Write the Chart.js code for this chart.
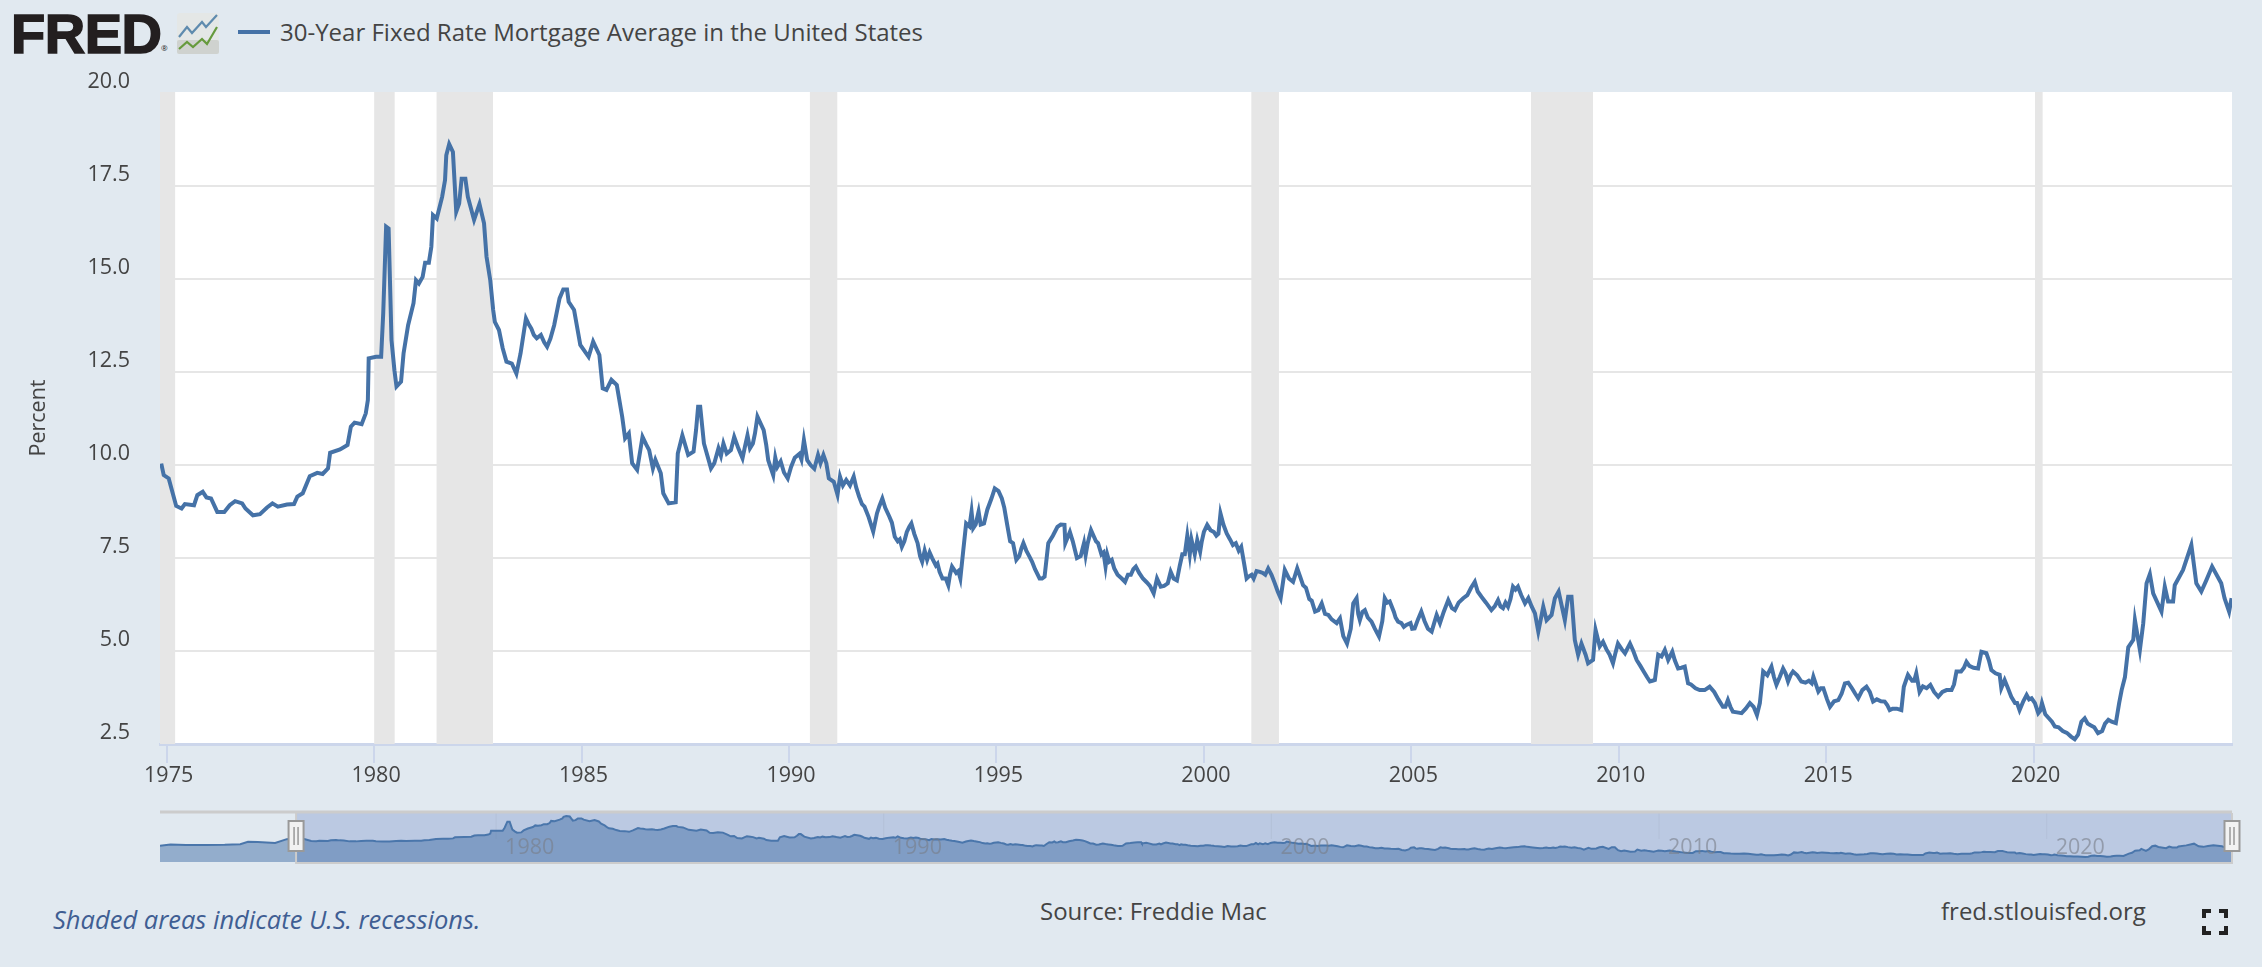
<!DOCTYPE html>
<html>
<head>
<meta charset="utf-8">
<title>30-Year Fixed Rate Mortgage Average</title>
<script src="https://cdn.jsdelivr.net/npm/chart.js@4"></script>
<style>
  html, body { margin: 0; padding: 0; background: #e1e9f0; width: 2262px; height: 967px; overflow: hidden; }
  body { position: relative; font-family: "Open Sans", sans-serif; color: #444; }
  canvas { position: absolute; left: 0; }
  #mainChart { top: 0; }
  #navChart { top: 800px; }
  .txt { position: absolute; white-space: nowrap; line-height: 1; }
  #logo { left: 11px; top: 1px; font: bold 56px "Liberation Sans", sans-serif; color: #231f20; -webkit-text-stroke: 1.6px #231f20; letter-spacing: -0.5px; }
  #reg { left: 161px; top: 44px; font-size: 8px; color: #231f20; }
  #icon { position: absolute; left: 177px; top: 13px; }
  #legendLine { position: absolute; left: 238px; top: 30px; width: 32px; height: 4px; background: #4572a7; }
  #title { left: 280px; top: 20px; font-size: 24px; color: #444; }
  #note { left: 53px; top: 907px; font-size: 25.5px; font-style: italic; color: #3f5e93; }
  #source { left: 1040px; top: 899px; font-size: 24px; }
  #site { left: 1941px; top: 899px; font-size: 24px; }
  #full { position: absolute; left: 2202px; top: 909px; }
</style>
</head>
<body>
<div class="txt" id="logo">FRED</div>
<div class="txt" id="reg">®</div>
<svg id="icon" width="42" height="41" viewBox="0 0 42 41">
  <rect width="42" height="41" rx="3" fill="#e4e7e6"/>
  <rect y="27" width="42" height="14" rx="2" fill="#cfd2cf"/>
  <polyline points="2,24 10,14 15,20 25,9 29,14 40,2" fill="none" stroke="#5f8bae" stroke-width="2.2"/>
  <polyline points="2,36 10,29 16,34 25,26 30,31 40,14" fill="none" stroke="#669a3c" stroke-width="2.2"/>
</svg>
<div id="legendLine"></div>
<div class="txt" id="title">30-Year Fixed Rate Mortgage Average in the United States</div>
<canvas id="mainChart" width="2262" height="800"></canvas>
<canvas id="navChart" width="2262" height="80"></canvas>
<div class="txt" id="note">Shaded areas indicate U.S. recessions.</div>
<div class="txt" id="source">Source: Freddie Mac</div>
<div class="txt" id="site">fred.stlouisfed.org</div>
<svg id="full" width="26" height="26" viewBox="0 0 26 26" fill="none" stroke="#222" stroke-width="4">
  <path d="M2 9V2H9M17 2H24V9M24 17V24H17M9 24H2V17"/>
</svg>

<script>
// turning points, years as decimals
const rateYears = [
  1974.87, 1974.93, 1975.05, 1975.23, 1975.36, 1975.44, 1975.66, 1975.74, 1975.87, 1975.96,
  1976.07, 1976.22, 1976.39, 1976.52, 1976.65, 1976.82, 1976.90, 1977.08, 1977.25, 1977.42,
  1977.55, 1977.68, 1977.90, 1978.07, 1978.15, 1978.28, 1978.45, 1978.63, 1978.76, 1978.89,
  1978.94, 1979.18, 1979.36, 1979.44, 1979.53, 1979.70, 1979.80, 1979.85, 1979.87, 1980.05,
  1980.17, 1980.22, 1980.29, 1980.35, 1980.42, 1980.49, 1980.54, 1980.65, 1980.71, 1980.82,
  1980.95, 1981.01, 1981.08, 1981.17, 1981.23, 1981.32, 1981.38, 1981.42, 1981.51, 1981.64,
  1981.71, 1981.74, 1981.81, 1981.90, 1981.98, 1982.05, 1982.11, 1982.20, 1982.26, 1982.41,
  1982.54, 1982.65, 1982.71, 1982.80, 1982.87, 1982.91, 1983.01, 1983.10, 1983.19, 1983.32,
  1983.43, 1983.53, 1983.66, 1983.79, 1983.92, 1984.02, 1984.17, 1984.34, 1984.47, 1984.56,
  1984.65, 1984.69, 1984.82, 1984.97, 1985.17, 1985.28, 1985.43, 1985.51, 1985.60, 1985.72,
  1985.85, 1985.98, 1986.05, 1986.14, 1986.22, 1986.34, 1986.47, 1986.63, 1986.72, 1986.78,
  1986.91, 1986.97, 1987.10, 1987.27, 1987.32, 1987.43, 1987.57, 1987.70, 1987.76, 1987.81,
  1987.86, 1987.95, 1988.12, 1988.42, 1988.50, 1988.68, 1988.88, 1989.00, 1989.13, 1989.24,
  1989.39, 1989.50, 1989.62, 1989.67, 1989.80, 1989.97, 1990.14, 1990.36, 1990.44, 1990.61,
  1990.70, 1990.83, 1990.96, 1991.17, 1991.23, 1991.56, 1991.69, 1991.82, 1992.03, 1992.12,
  1992.25, 1992.42, 1992.55, 1992.72, 1992.90, 1992.95, 1993.10, 1993.21, 1993.45, 1993.63,
  1993.84, 1993.93, 1994.13, 1994.27, 1994.40, 1994.44, 1994.57, 1994.70, 1994.96, 1995.13,
  1995.26, 1995.48, 1995.65, 1995.86, 1996.04, 1996.16, 1996.25, 1996.47, 1996.64, 1996.66,
  1996.77, 1996.94, 1997.11, 1997.15, 1997.28, 1997.45, 1997.63, 1997.67, 1997.84, 1998.10,
  1998.36, 1998.53, 1998.79, 1998.87, 1998.96, 1999.13, 1999.20, 1999.35, 1999.48, 1999.60,
  1999.78, 1999.84, 1999.91, 2000.08, 2000.30, 2000.40, 2000.55, 2000.77, 2000.90, 2001.03,
  2001.35, 2001.55, 2001.71, 2001.85, 2001.95, 2002.15, 2002.25, 2002.39, 2002.68, 2002.84,
  2003.00, 2003.20, 2003.28, 2003.45, 2003.60, 2003.68, 2003.76, 2003.88, 2004.04, 2004.22,
  2004.36, 2004.48, 2004.68, 2004.88, 2005.08, 2005.24, 2005.49, 2005.61, 2005.69, 2005.89,
  2006.05, 2006.25, 2006.53, 2006.69, 2006.93, 2007.09, 2007.21, 2007.33, 2007.45, 2007.57,
  2007.74, 2007.82, 2007.98, 2008.06, 2008.18, 2008.26, 2008.38, 2008.46, 2008.55, 2008.70,
  2008.78, 2008.86, 2008.94, 2009.02, 2009.10, 2009.26, 2009.38, 2009.44, 2009.54, 2009.62,
  2009.86, 2009.98, 2010.15, 2010.27, 2010.43, 2010.75, 2010.87, 2010.95, 2011.11, 2011.19,
  2011.29, 2011.43, 2011.59, 2011.67, 2011.95, 2012.19, 2012.51, 2012.63, 2012.75, 2012.96,
  2013.16, 2013.33, 2013.40, 2013.48, 2013.68, 2013.80, 2013.96, 2014.08, 2014.20, 2014.40,
  2014.65, 2014.69, 2014.81, 2014.93, 2015.09, 2015.29, 2015.45, 2015.53, 2015.77, 2015.97,
  2016.13, 2016.41, 2016.53, 2016.81, 2016.87, 2016.97, 2017.17, 2017.25, 2017.51, 2017.70,
  2018.02, 2018.14, 2018.38, 2018.66, 2018.74, 2018.86, 2018.98, 2019.18, 2019.22, 2019.30,
  2019.46, 2019.66, 2019.83, 2019.95, 2020.11, 2020.20, 2020.51, 2020.99, 2021.15, 2021.23,
  2021.55, 2021.80, 2021.98, 2022.06, 2022.12, 2022.20, 2022.28, 2022.40, 2022.44, 2022.56,
  2022.64, 2022.72, 2022.80, 2022.88, 2023.08, 2023.16, 2023.24, 2023.36, 2023.40, 2023.60,
  2023.80, 2023.92, 2024.04, 2024.16, 2024.30, 2024.52, 2024.60, 2024.71, 2024.77
];
const rateValues = [
  10.04, 9.73, 9.64, 8.90, 8.83, 8.95, 8.92, 9.19, 9.28, 9.13,
  9.10, 8.74, 8.74, 8.92, 9.03, 8.97, 8.83, 8.65, 8.68, 8.86,
  8.97, 8.88, 8.94, 8.95, 9.15, 9.24, 9.70, 9.79, 9.76, 9.91,
  10.33, 10.42, 10.54, 11.03, 11.14, 11.10, 11.39, 11.75, 12.87, 12.91,
  12.91, 14.08, 16.41, 16.36, 13.36, 12.55, 12.11, 12.24, 13.00, 13.76,
  14.35, 14.97, 14.88, 15.06, 15.44, 15.44, 15.87, 16.72, 16.63, 17.21,
  17.66, 18.33, 18.63, 18.42, 16.81, 17.03, 17.70, 17.70, 17.21, 16.59,
  17.02, 16.50, 15.60, 14.97, 14.17, 13.85, 13.63, 13.14, 12.78, 12.73,
  12.46, 13.00, 13.94, 13.67, 13.41, 13.50, 13.18, 13.76, 14.48, 14.72,
  14.72, 14.39, 14.17, 13.23, 12.91, 13.32, 12.96, 12.06, 12.02, 12.29,
  12.15, 11.30, 10.72, 10.85, 10.05, 9.87, 10.76, 10.40, 9.91, 10.14,
  9.78, 9.24, 8.97, 9.00, 10.31, 10.80, 10.27, 10.36, 10.94, 11.57,
  11.57, 10.58, 9.91, 10.58, 10.31, 10.76, 10.18, 10.80, 10.58, 11.30,
  10.94, 10.13, 9.73, 10.20, 10.10, 9.64, 10.20, 10.67, 10.13, 9.90,
  10.27, 10.27, 9.64, 9.20, 9.69, 9.69, 9.15, 8.88, 8.21, 8.70,
  9.10, 8.61, 8.07, 7.80, 8.34, 8.43, 7.90, 7.40, 7.50, 7.13,
  6.77, 7.27, 6.95, 8.43, 8.75, 8.30, 8.75, 8.43, 9.37, 9.10,
  8.39, 7.45, 7.90, 7.40, 6.95, 7.00, 7.90, 8.34, 8.39, 7.90,
  8.20, 7.50, 7.90, 7.58, 8.25, 7.90, 7.27, 7.60, 7.22, 6.86,
  7.27, 6.95, 6.55, 6.95, 6.73, 6.82, 7.13, 6.90, 7.60, 8.10,
  7.60, 7.98, 7.67, 8.39, 8.10, 8.70, 8.16, 7.90, 7.80, 6.95,
  7.13, 7.22, 6.82, 6.42, 7.18, 6.86, 7.22, 6.77, 6.06, 6.28,
  5.97, 5.75, 5.88, 5.20, 6.28, 6.42, 5.83, 6.10, 5.79, 5.39,
  6.42, 6.33, 5.79, 5.70, 5.61, 6.06, 5.52, 5.97, 5.75, 6.37,
  6.10, 6.42, 6.86, 6.46, 6.10, 6.37, 6.15, 6.19, 6.73, 6.73,
  6.28, 6.42, 6.01, 5.52, 6.19, 5.83, 5.97, 6.42, 6.60, 5.83,
  6.46, 6.46, 5.30, 4.90, 5.20, 4.67, 4.76, 5.57, 5.12, 5.25,
  4.67, 5.20, 4.94, 5.20, 4.76, 4.18, 4.22, 4.90, 5.03, 4.76,
  4.98, 4.53, 4.58, 4.13, 3.95, 4.04, 3.50, 3.68, 3.37, 3.33,
  3.60, 3.28, 3.60, 4.45, 4.58, 4.09, 4.53, 4.18, 4.45, 4.18,
  4.13, 4.31, 3.91, 4.00, 3.50, 3.68, 4.13, 4.15, 3.73, 4.04,
  3.64, 3.64, 3.41, 3.41, 4.04, 4.36, 4.40, 3.90, 4.09, 3.77,
  3.95, 4.45, 4.71, 4.53, 4.98, 4.94, 4.49, 4.36, 4.00, 4.22,
  3.77, 3.41, 3.82, 3.73, 3.33, 3.60, 2.97, 2.63, 3.10, 3.19,
  2.79, 3.15, 3.06, 3.60, 3.95, 4.30, 5.10, 5.30, 5.83, 5.03,
  5.74, 6.82, 7.07, 6.55, 6.06, 6.73, 6.33, 6.33, 6.77, 7.18,
  7.85, 6.82, 6.60, 6.90, 7.27, 6.82, 6.42, 6.06, 6.42
];
// smaller wiggles between the turning points
const wiggleYears = [
  1983.72, 1983.85, 1984.10, 1984.25, 1986.56,
  1988.20, 1988.30, 1988.36, 1988.60, 1988.78, 1988.94, 1989.06, 1989.18, 1989.45, 1989.72,
  1989.88, 1990.05, 1990.25, 1990.30, 1990.52, 1990.76, 1990.90, 1991.08, 1991.30, 1991.38,
  1991.47, 1991.62, 1991.76, 1991.92, 1992.18, 1992.32, 1992.48, 1992.62, 1992.67, 1992.78,
  1992.84, 1993.02, 1993.16, 1993.27, 1993.33, 1993.39, 1993.54, 1993.58, 1993.70, 1993.78,
  1993.88, 1994.03, 1994.08, 1994.20, 1994.35, 1994.50, 1994.62, 1994.78, 1994.88, 1995.05,
  1995.19, 1995.33, 1995.40, 1995.55, 1995.60, 1995.72, 1995.79, 1995.93, 1996.10, 1996.36,
  1996.55, 1996.84, 1997.03, 1997.20, 1997.34, 1997.40, 1997.53, 1997.58, 1997.72, 1997.78,
  1997.92, 1998.02, 1998.17, 1998.24, 1998.30, 1998.44, 1998.50, 1998.62, 1998.70, 1999.04,
  1999.27, 1999.42, 1999.54, 1999.66, 1999.70, 1999.95, 2000.00, 2000.16, 2000.24, 2000.35,
  2000.47, 2000.63, 2000.70, 2000.84, 2000.97, 2001.08, 2001.15, 2001.20, 2001.27, 2001.42,
  2001.48, 2001.63, 2001.78, 2002.05, 2002.32, 2002.46, 2002.54, 2002.60, 2002.76, 2002.92,
  2003.08, 2003.36, 2003.54, 2003.72, 2003.82, 2003.95, 2004.12, 2004.30, 2004.42, 2004.58,
  2004.62, 2004.76, 2004.82, 2004.98, 2005.02, 2005.16, 2005.32, 2005.40, 2005.55, 2005.78,
  2005.98, 2006.14, 2006.35, 2006.44, 2006.60, 2006.80, 2007.01, 2007.15, 2007.27, 2007.39,
  2007.51, 2007.65, 2007.90, 2009.20, 2009.70, 2009.78, 2009.92, 2010.07, 2010.35, 2010.52,
  2010.60, 2010.68, 2010.81, 2011.03, 2011.35, 2011.51, 2011.74, 2011.85, 2012.07, 2012.30,
  2012.40, 2012.57, 2012.69, 2012.85, 2013.06, 2013.25, 2013.58, 2013.74, 2013.88, 2014.02,
  2014.14, 2014.30, 2014.50, 2014.58, 2014.87, 2015.02, 2015.19, 2015.37, 2015.62, 2015.70,
  2015.87, 2016.05, 2016.22, 2016.32, 2016.47, 2016.60, 2016.70, 2016.92, 2017.07, 2017.12,
  2017.33, 2017.42, 2017.60, 2017.80, 2017.90, 2018.08, 2018.25, 2018.32, 2018.45, 2018.55,
  2018.92, 2019.08, 2019.38, 2019.55, 2019.60, 2019.75, 2019.89, 2020.03, 2020.16, 2020.28,
  2020.36, 2020.44, 2020.60, 2020.70, 2020.80, 2020.90, 2021.07, 2021.30, 2021.38, 2021.46,
  2021.65, 2021.72, 2021.88
];
const wiggleValues = [
  13.80, 13.50, 13.30, 13.40, 10.55,
  10.05, 10.45, 10.25, 10.40, 10.45, 10.50, 10.45, 10.85, 10.55, 9.95,
  9.80, 9.95, 10.30, 10.15, 10.00, 10.05, 10.05, 9.55, 9.45, 9.60,
  9.45, 9.40, 8.95, 8.60, 8.90, 8.85, 8.45, 7.95, 8.00, 7.95,
  8.20, 8.15, 7.55, 7.70, 7.45, 7.65, 7.30, 7.35, 6.95, 6.95,
  7.05, 7.10, 7.15, 7.70, 8.35, 8.40, 8.40, 8.80, 9.10, 9.30,
  8.85, 7.95, 7.90, 7.55, 7.75, 7.70, 7.55, 7.20, 6.95, 8.10,
  8.40, 7.95, 7.55, 7.90, 8.10, 7.95, 7.60, 7.65, 7.40, 7.45,
  7.05, 6.95, 7.05, 7.05, 7.20, 7.10, 7.00, 6.85, 6.75, 6.75,
  6.95, 7.30, 7.60, 7.60, 8.00, 7.95, 8.20, 8.25, 8.20, 8.15,
  8.40, 8.00, 7.85, 7.70, 7.35, 7.00, 7.05, 6.95, 7.15, 7.10,
  7.05, 7.05, 6.60, 6.95, 7.00, 6.70, 6.40, 6.35, 6.10, 6.00,
  5.85, 5.40, 5.60, 6.00, 6.05, 5.90, 5.60, 5.80, 6.30, 6.05,
  5.90, 5.75, 5.65, 5.75, 5.60, 5.85, 5.80, 5.60, 5.75, 6.05,
  6.15, 6.30, 6.50, 6.70, 6.60, 6.30, 6.20, 6.20, 6.30, 6.40,
  6.65, 6.50, 6.20, 4.90, 5.05, 4.90, 4.95, 5.05, 5.00, 4.60,
  4.45, 4.30, 4.20, 4.85, 4.75, 4.55, 4.10, 4.00, 3.95, 3.90,
  3.70, 3.50, 3.50, 3.35, 3.45, 3.50, 4.35, 4.30, 4.30, 4.40,
  4.35, 4.35, 4.15, 4.20, 4.00, 3.70, 3.65, 3.85, 4.00, 3.85,
  3.95, 3.90, 3.70, 3.65, 3.55, 3.45, 3.45, 4.20, 4.20, 4.20,
  4.05, 4.00, 3.90, 3.90, 3.95, 4.10, 4.45, 4.55, 4.60, 4.55,
  4.75, 4.40, 4.00, 3.60, 3.60, 3.65, 3.70, 3.60, 3.40, 3.30,
  3.20, 3.10, 2.95, 2.85, 2.80, 2.70, 2.75, 3.05, 3.00, 2.95,
  2.85, 3.05, 3.10
];
// navigator also shows the start of the series, before the main window
const navLeadYears = [1971.33, 1971.60, 1972.00, 1972.50, 1973.00, 1973.40, 1973.60, 1973.85, 1974.30, 1974.60];
const navLeadValues = [7.00, 7.50, 7.35, 7.35, 7.40, 7.60, 8.55, 8.50, 8.10, 9.60];

const recessionStarts = [1973.83, 1980.00, 1981.50, 1990.50, 2001.14, 2007.88, 2020.03];
const recessionEnds = [1975.21, 1980.50, 1982.87, 1991.17, 2001.81, 2009.38, 2020.22];
const navTickYears = [1980, 1990, 2000, 2010, 2020];

const windowStart = 1974.84;
const windowEnd = 2024.78;
const navStart = 1971.33;
const plotTop = 20.03;

function toPoints(years, values) {
  return values.map((v, i) => ({ x: years[i], y: v }));
}

// both reading passes, in date order
const ratePoints = toPoints(rateYears, rateValues)
  .concat(toPoints(wiggleYears, wiggleValues))
  .sort((a, b) => a.x - b.x);

const recessionSets = recessionStarts.map((start, i) => ({
  data: [{ x: Math.max(start, windowStart), y: plotTop }, { x: recessionEnds[i], y: plotTop }],
  fill: 'start',
  backgroundColor: '#e6e6e6',
  borderWidth: 0,
  pointRadius: 0,
  order: 2
}));

const plotBackground = {
  id: 'plotBackground',
  beforeDraw(chart) {
    const a = chart.chartArea;
    chart.ctx.fillStyle = '#ffffff';
    chart.ctx.fillRect(a.left, a.top, a.width, a.height);
  }
};

new Chart(document.getElementById('mainChart'), {
  type: 'line',
  data: {
    datasets: [
      {
        data: ratePoints,
        borderColor: '#4572a7',
        borderWidth: 4,
        pointRadius: 0,
        tension: 0,
        fill: false,
        order: 1
      },
      ...recessionSets
    ]
  },
  options: {
    responsive: false,
    animation: false,
    devicePixelRatio: 1,
    layout: { padding: { top: 92, right: 30, left: 0, bottom: 0 } },
    plugins: { legend: { display: false }, tooltip: { enabled: false } },
    scales: {
      x: {
        type: 'linear',
        min: windowStart,
        max: windowEnd,
        afterFit(scale) { scale.height = 56; },
        border: { color: '#ccd6eb', width: 3 },
        grid: { drawOnChartArea: false, color: '#ccd6eb', lineWidth: 2, tickLength: 19 },
        ticks: {
          stepSize: 5,
          includeBounds: false,
          maxRotation: 0,
          padding: 0,
          labelOffset: 2,
          color: '#444',
          font: { family: '"Open Sans"', size: 21.5 },
          callback: v => String(v)
        }
      },
      y: {
        min: 2.5,
        max: plotTop,
        afterFit(scale) { scale.width = 160; },
        border: { display: false },
        grid: {
          // no line along the top edge of the plot
          color: ctx => (ctx.tick && ctx.tick.value === 20 ? 'rgba(0,0,0,0)' : '#e6e6e6'),
          lineWidth: 2,
          drawTicks: false
        },
        title: {
          display: true,
          text: 'Percent',
          color: '#444',
          font: { family: '"Open Sans"', size: 21.5 },
          padding: { top: 26, bottom: 0 }
        },
        ticks: {
          stepSize: 2.5,
          includeBounds: false,
          padding: 30,
          labelOffset: -11,
          color: '#444',
          font: { family: '"Open Sans"', size: 21.5 },
          callback: v => v.toFixed(1)
        }
      }
    }
  },
  plugins: [plotBackground]
});

// selection band, year labels and handles of the navigator
const navDecor = {
  id: 'navDecor',
  beforeDatasetsDraw(chart) {
    const { ctx, chartArea: a, scales } = chart;
    const left = scales.x.getPixelForValue(windowStart);
    const right = scales.x.getPixelForValue(windowEnd);
    ctx.fillStyle = '#bbc9e2';
    ctx.fillRect(left, a.top, right - left, a.height);
    ctx.strokeStyle = 'rgba(160,170,190,0.25)';
    ctx.lineWidth = 1;
    navTickYears.forEach(year => {
      const x = scales.x.getPixelForValue(year);
      ctx.beginPath();
      ctx.moveTo(x, a.top);
      ctx.lineTo(x, a.top + 26);
      ctx.stroke();
    });
  },
  afterDatasetsDraw(chart) {
    const { ctx, chartArea: a, scales } = chart;
    const left = scales.x.getPixelForValue(windowStart);
    const right = scales.x.getPixelForValue(windowEnd);
    ctx.fillStyle = 'rgba(120,125,135,0.6)';
    ctx.font = '21.5px "Open Sans"';
    ctx.textAlign = 'left';
    ctx.textBaseline = 'middle';
    navTickYears.forEach(year => {
      ctx.fillText(String(year), scales.x.getPixelForValue(year) + 9, a.top + 35);
    });
    ctx.strokeStyle = '#cccccc';
    ctx.lineWidth = 3;
    ctx.beginPath();
    ctx.moveTo(a.left, a.top - 1);
    ctx.lineTo(a.right, a.top - 1);
    ctx.stroke();
    ctx.beginPath();
    ctx.moveTo(left, a.top);
    ctx.lineTo(left, a.bottom + 1);
    ctx.lineTo(right, a.bottom + 1);
    ctx.lineTo(right, a.top);
    ctx.lineWidth = 2;
    ctx.stroke();
    [left, right].forEach(x => {
      ctx.fillStyle = '#f2f2f2';
      ctx.strokeStyle = '#999999';
      ctx.lineWidth = 2;
      ctx.fillRect(x - 7.5, a.top + 8, 15, 30);
      ctx.strokeRect(x - 7.5, a.top + 8, 15, 30);
      ctx.lineWidth = 1.5;
      ctx.beginPath();
      ctx.moveTo(x - 2, a.top + 14);
      ctx.lineTo(x - 2, a.top + 32);
      ctx.moveTo(x + 2, a.top + 14);
      ctx.lineTo(x + 2, a.top + 32);
      ctx.stroke();
    });
  }
};

new Chart(document.getElementById('navChart'), {
  type: 'line',
  data: {
    datasets: [{
      data: toPoints(navLeadYears, navLeadValues).concat(ratePoints),
      borderColor: '#4a76ab',
      borderWidth: 2,
      backgroundColor: 'rgba(69,114,167,0.5)',
      pointRadius: 0,
      tension: 0,
      fill: 'start'
    }]
  },
  options: {
    responsive: false,
    animation: false,
    devicePixelRatio: 1,
    layout: { padding: { left: 160, right: 30, top: 13, bottom: 18 } },
    plugins: { legend: { display: false }, tooltip: { enabled: false } },
    scales: {
      x: { type: 'linear', display: false, min: navStart, max: windowEnd },
      y: { display: false, min: 0.7, max: 19.8 }
    }
  },
  plugins: [navDecor]
});
</script>
</body>
</html>
